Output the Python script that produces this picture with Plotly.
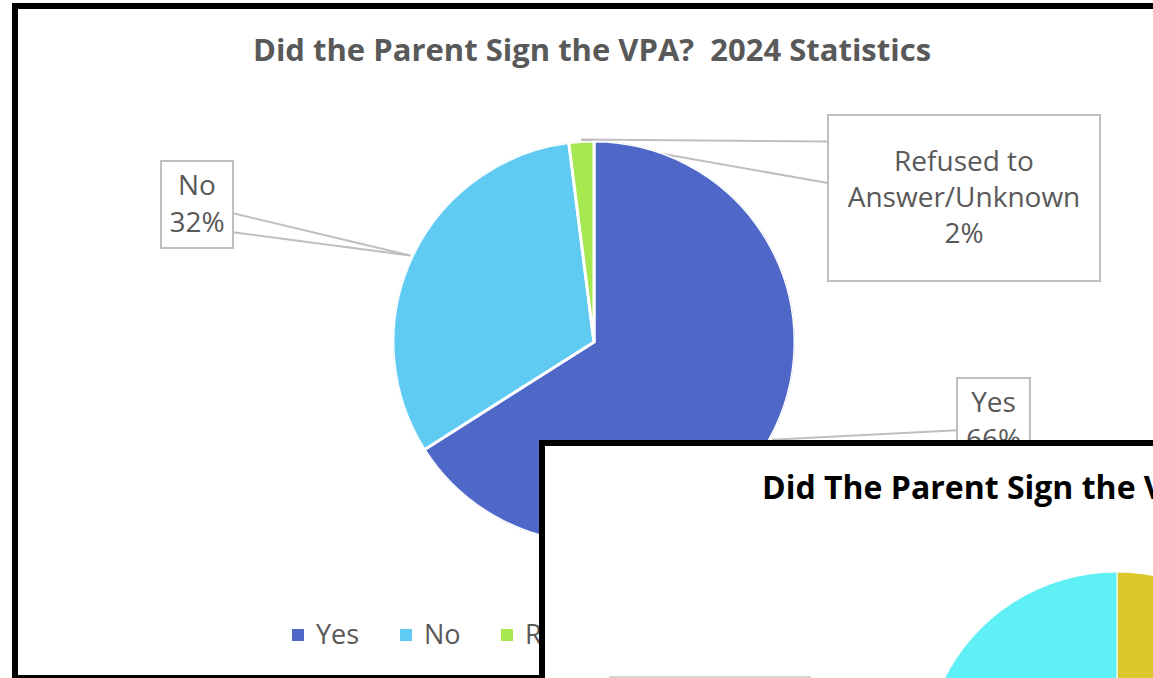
import math
import plotly.graph_objects as go

# ---------------- data ----------------
categories = ["Yes", "No", "Refused to Answer/Unknown"]
values = [66, 32, 2]
colors = ["#4F68C8", "#5FCBF3", "#A5E84F"]
box_names = ["Yes", "No", "Refused to<br>Answer/Unknown"]

inset_categories = ["Yes", "No"]
inset_values = [64, 36]
inset_colors = ["#DCC82A", "#5FF0F5"]

title_text = "Did the Parent Sign the VPA?\u00a0 2024 Statistics"
inset_title_text = "Did The Parent Sign the VPA?"

# ---------------- layout geometry (pixels) ----------------
W, H = 1400, 1000          # canvas; the page shows its top-left 1153x678
CX, CY, R = 594, 342, 201  # main pie
ICX, ICY, IR = 1117, 765, 193  # inset pie (mostly outside the view)
INSET_X, INSET_Y = 542, 443

def px(x):
    return x / W

def py(y):
    return 1 - y / H

GRAY_TXT = "#595959"
GRAY_LINE = "#BFBFBF"
FONT = "Open Sans"

total = sum(values)
fracs = [v / total for v in values]
widths = [f * 360 for f in fracs]
mids = []
acc = 0.0
for w in widths:
    mids.append(acc + w / 2)
    acc += w

fig = go.Figure()

# main pie, drawn as polar bars (clockwise from 12 o'clock)
fig.add_trace(go.Barpolar(
    r=[1] * len(values), theta=mids, width=widths, base=0,
    marker=dict(color=colors, line=dict(color="white", width=3)),
    showlegend=False, hoverinfo="skip", subplot="polar",
))

# white sheet of the overlapping second chart (geo background)
fig.add_trace(go.Scattergeo(
    lon=[0], lat=[0], mode="markers", marker=dict(size=1, opacity=0),
    geo="geo", showlegend=False, hoverinfo="skip",
))

# second (inset) pie
fig.add_trace(go.Pie(
    labels=inset_categories, values=inset_values, sort=False,
    direction="clockwise", rotation=0, textinfo="none",
    marker=dict(colors=inset_colors, line=dict(color="white", width=1)),
    domain=dict(x=[px(ICX - IR), px(ICX + IR)], y=[py(ICY + IR), py(ICY - IR)]),
    showlegend=False, hoverinfo="skip",
))

shapes = []
# outer frame of the first chart
shapes.append(dict(type="rect", xref="paper", yref="paper", layer="below",
                   x0=px(15), y0=py(6), x1=px(1300), y1=py(678),
                   line=dict(color="black", width=6), fillcolor="rgba(0,0,0,0)"))

# data-label callouts
boxes = [  # (x0, y0, x1, y1) in px, order as categories
    (957, 378, 1030, 465),
    (161, 161, 233, 248),
    (828, 115, 1100, 281),
]
anchors = [(0.6, 0.82), (0.6, 0.82), (0.16, 0.41)]
for i, (cat, name) in enumerate(zip(categories, box_names)):
    ang = math.radians(mids[i])
    ax = CX + (R + 2) * math.sin(ang)
    ay = CY - (R + 2) * math.cos(ang)
    x0, y0, x1, y1 = boxes[i]
    hgt = y1 - y0
    ex = x0 if ax < x0 else x1
    for fy in anchors[i]:
        shapes.append(dict(type="line", xref="paper", yref="paper", layer="below",
                           x0=px(ax), y0=py(ay), x1=px(ex), y1=py(y0 + fy * hgt),
                           line=dict(color=GRAY_LINE, width=2)))
    pct = round(values[i] / total * 100)
    shapes.append(dict(type="rect", xref="paper", yref="paper", layer="below",
                       x0=px(x0), y0=py(y0), x1=px(x1), y1=py(y1),
                       line=dict(color=GRAY_LINE, width=2), fillcolor="white",
                       label=dict(text=f"{name}<br>{pct}%", textposition="middle center",
                                  font=dict(family=FONT, size=28, color=GRAY_TXT))))

# legend (drawn under the overlapping chart)
legend_x = [292, 400, 501]
for i, cat in enumerate(categories):
    lx = legend_x[i]
    shapes.append(dict(type="rect", xref="paper", yref="paper", layer="below",
                       x0=px(lx), y0=py(629), x1=px(lx + 12), y1=py(641),
                       line=dict(width=0), fillcolor=colors[i]))
    shapes.append(dict(type="rect", xref="paper", yref="paper", layer="below",
                       x0=px(lx + 21), y0=py(615), x1=px(lx + 450), y1=py(655),
                       line=dict(width=0), fillcolor="rgba(0,0,0,0)",
                       label=dict(text=cat, textposition="middle left", padding=0,
                                  font=dict(family=FONT, size=27, color=GRAY_TXT))))

# inset chart border and a callout box top edge
shapes.append(dict(type="rect", xref="paper", yref="paper", layer="above",
                   x0=px(INSET_X), y0=py(INSET_Y), x1=px(1390), y1=py(990),
                   line=dict(color="black", width=6), fillcolor="rgba(0,0,0,0)"))
shapes.append(dict(type="rect", xref="paper", yref="paper", layer="above",
                   x0=px(610), y0=py(677), x1=px(810), y1=py(770),
                   line=dict(color="#D4D4D4", width=2), fillcolor="white"))

# geo sheet: domain from the inset border to the canvas corner
gw = W - INSET_X
gh = H - INSET_Y
lat_half = 4
lon_half = lat_half * gw / gh

fig.update_layout(
    width=W, height=H,
    margin=dict(l=0, r=0, t=0, b=0),
    paper_bgcolor="white",
    showlegend=False,
    title=dict(text=title_text, x=px(592), y=py(50), xanchor="center", yanchor="middle",
               xref="paper", yref="container",
               font=dict(family=FONT, size=31, color=GRAY_TXT, weight="bold")),
    polar=dict(
        domain=dict(x=[px(CX - R), px(CX + R)], y=[py(CY + R), py(CY - R)]),
        bgcolor="rgba(0,0,0,0)", hole=0,
        angularaxis=dict(direction="clockwise", rotation=90, visible=False),
        radialaxis=dict(range=[0, 1], visible=False),
    ),
    geo=dict(
        domain=dict(x=[px(INSET_X), 1], y=[0, py(INSET_Y)]),
        bgcolor="white",
        projection=dict(type="equirectangular"),
        lonaxis=dict(range=[-lon_half, lon_half], showgrid=False),
        lataxis=dict(range=[-lat_half, lat_half], showgrid=False),
        showframe=False, showcoastlines=False, showland=False, showocean=False,
        showlakes=False, showrivers=False, showcountries=False, showsubunits=False,
    ),
    shapes=shapes,
    annotations=[dict(text=inset_title_text, xref="paper", yref="paper",
                      x=px(760), y=py(486), xanchor="left", yanchor="middle",
                      showarrow=False,
                      font=dict(family=FONT, size=32, color="black", weight="bold"))],
)

post = ("var d=document.getElementById('{plot_id}');"
        "d.style.width='1153px';d.style.height='678px';d.style.overflow='hidden';"
        "document.body.style.margin='0';document.body.style.overflow='hidden';"
        "document.documentElement.style.overflow='hidden';")

fig.write_html("out.html", post_script=post, config={"displayModeBar": False})
